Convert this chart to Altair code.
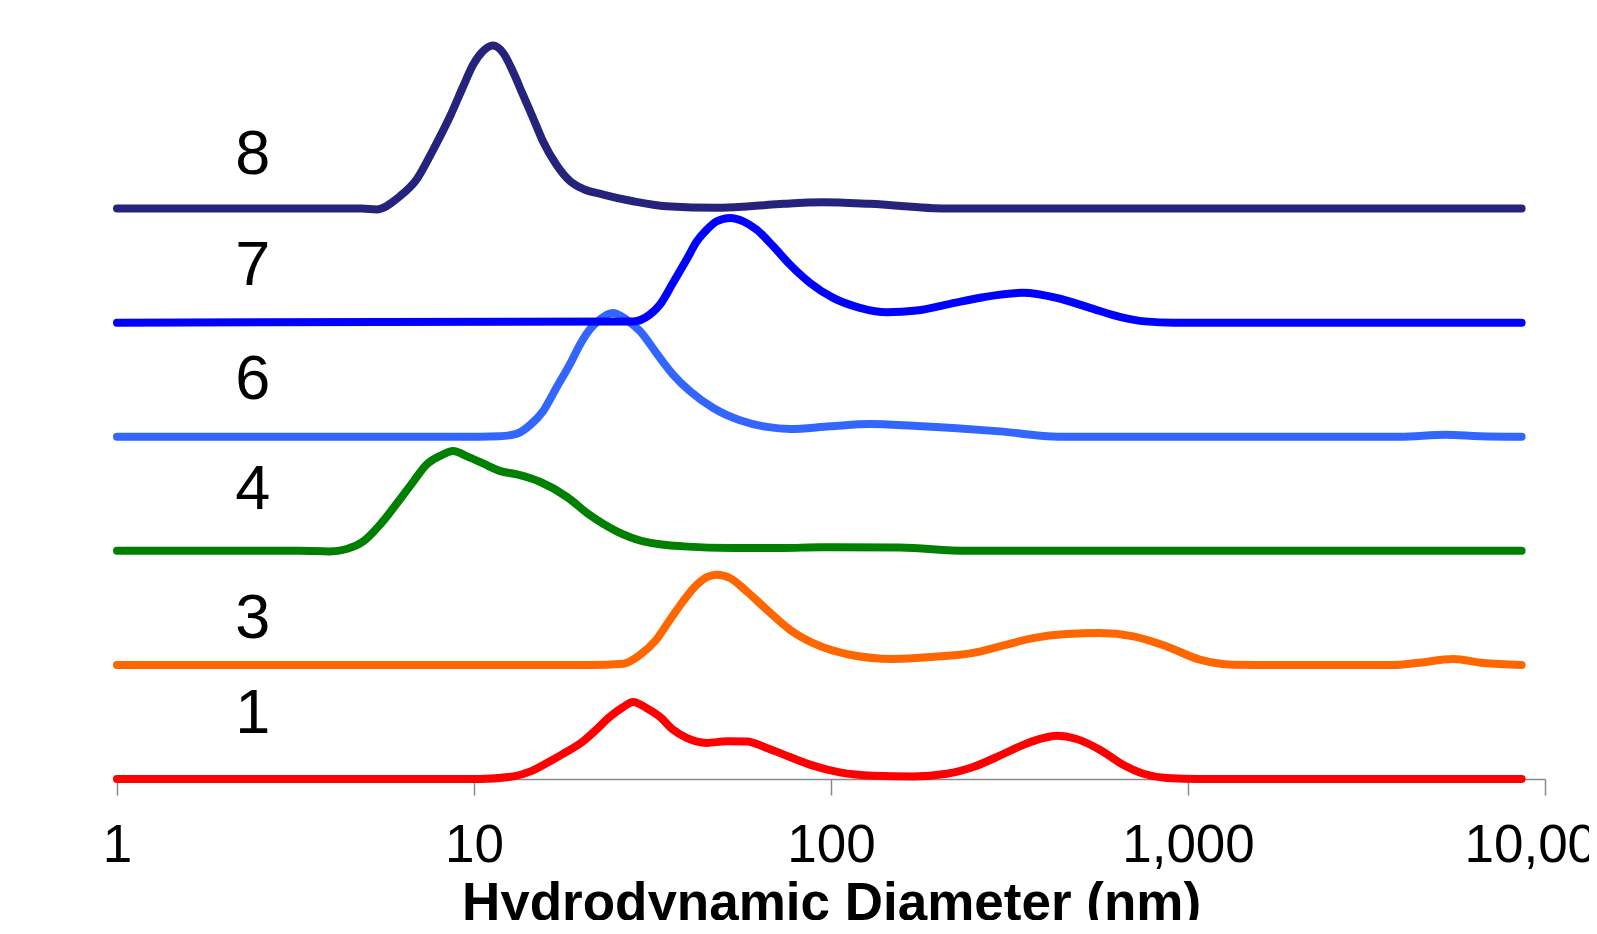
import altair as alt
import pandas as pd

# ---- data (size in nm, intensity in arbitrary units) ----
names = ["1", "3", "4", "6", "7", "8"]
colors = ["#FF0000", "#FF6600", "#008000", "#3366FF", "#0000FF", "#25237B"]
offsets = [0, 10, 20, 30, 40, 50]

size_1 = [1, 10.4, 12.9, 14.4, 16.0, 17.8, 20.2, 22.0, 24.0, 26.2, 27.9, 30.4, 33.2, 36.1, 39.4,
          44.9, 51.1, 58.1, 66.1, 76.7, 89.1, 105.9, 131.2, 169.8, 210.9, 250, 297, 338, 385,
          428.5, 487.5, 566, 658, 750, 871, 1079, 8600]
int_1 = [0, 0, 0.23, 0.67, 1.40, 2.22, 3.30, 4.32, 5.44, 6.31, 6.75, 6.23, 5.44, 4.32, 3.60,
         3.16, 3.30, 3.28, 2.72, 1.93, 1.17, 0.58, 0.29, 0.23, 0.46, 1.05, 2.05, 2.86, 3.51,
         3.80, 3.51, 2.57, 1.25, 0.46, 0.09, 0, 0]

size_3 = [1, 21.1, 26.2, 29.2, 32.4, 35.4, 38.5, 42.1, 44.9, 47.9, 52.1, 58.1, 66.1, 76.7, 91.2,
          113, 149, 193, 250, 297, 368, 457, 566, 703, 871, 1079, 1340, 1660, 3758, 4365, 5534,
          6714, 8600]
int_3 = [0, 0, 0.11, 0.89, 2.21, 3.96, 5.57, 7.03, 7.70, 7.91, 7.62, 6.44, 4.84, 3.09, 1.77,
         0.89, 0.52, 0.70, 1.05, 1.62, 2.35, 2.70, 2.79, 2.50, 1.62, 0.46, 0.02, 0, 0, 0.16, 0.52,
         0.16, 0]

size_4 = [1, 3.25, 3.94, 4.40, 4.90, 5.45, 6.07, 6.76, 7.36, 8.04, 8.75, 9.53, 10.6, 11.8, 13.2,
          15.3, 18.2, 21.1, 25.1, 29.8, 38.5, 53.2, 73.5, 93.1, 156, 240, 8600]
int_4 = [0, 0, -0.05, 0.16, 0.83, 2.28, 4.12, 6.07, 7.56, 8.32, 8.75, 8.30, 7.66, 7.01, 6.70,
         6.05, 4.73, 3.13, 1.71, 0.83, 0.39, 0.25, 0.25, 0.31, 0.28, 0, 0]

size_6 = [1, 10.4, 11.8, 13.2, 14.4, 15.6, 17.0, 18.6, 19.8, 21.1, 22.5, 24.5, 26.7, 29.2, 32.4,
          36.1, 40.3, 46.8, 55.6, 66.1, 76.7, 99.3, 128.5, 169.8, 219.8, 297.2, 434.5, 3926,
          5272, 6561, 8600]
int_6 = [0, 0, 0.04, 0.27, 1.06, 2.22, 4.27, 6.41, 8.07, 9.39, 10.27, 10.85, 10.27, 9.24, 7.35,
         5.45, 3.98, 2.52, 1.44, 0.86, 0.68, 0.91, 1.12, 0.97, 0.77, 0.47, 0, 0, 0.18, 0.05, 0]

size_7 = [1, 27.9, 31.1, 33.2, 36.1, 39.4, 42.1, 44.9, 47.9, 52.1, 56.8, 61.9, 68.9, 76.7,
          87.3, 101.4, 120.5, 143.2, 173.8, 215.3, 266.7, 345.1, 428.5, 530.9, 644.2, 756.8,
          918, 8600]
int_7 = [0, 0.1, 0.71, 1.59, 3.49, 5.53, 7.13, 8.15, 8.88, 9.18, 8.88, 8.15, 6.69, 5.09,
         3.49, 2.17, 1.30, 0.91, 1.06, 1.65, 2.23, 2.61, 2.17, 1.30, 0.51, 0.11, 0, 0]

size_8 = [1, 4.85, 5.33, 6.2, 6.9, 7.69, 8.57, 9.33, 9.95, 10.6, 11.3, 12.1, 12.9, 13.7, 14.7,
          15.6, 17.0, 18.6, 20.2, 23.0, 27.9, 34.6, 47.9, 59.3, 73.5, 95, 128.5, 211, 8600]
int_8 = [0, 0, -0.08, 1.08, 2.54, 5.17, 8.09, 10.72, 12.62, 13.79, 14.28, 13.59, 11.90, 10.00,
         7.80, 5.90, 3.86, 2.39, 1.73, 1.23, 0.64, 0.20, 0.06, 0.20, 0.41, 0.55, 0.41, 0.0, 0]

sizes = [size_1, size_3, size_4, size_6, size_7, size_8]
intensities = [int_1, int_3, int_4, int_6, int_7, int_8]

label_x = 2.4
label_heights = [4.03, 2.4, 3.7, 3.33, 3.28, 3.04]

tick_values = [1, 10, 100, 1000, 10000]

FONT = "Liberation Sans, Arial, Helvetica, sans-serif"

xscale = alt.Scale(type="log", domain=[1, 10000], nice=False)
yscale = alt.Scale(domain=[0, 66], nice=False, zero=False)

xaxis = alt.Axis(
    values=tick_values, format=",", grid=False,
    labelFont=FONT, labelFontSize=53, labelColor="#000000",
    labelPadding=24, labelFlush=False, labelOverlap=False,
    tickSize=16, tickWidth=1.5, tickColor="#8a8a8a",
    domainColor="#8a8a8a", domainWidth=1.5,
    title="Hydrodynamic Diameter (nm)", titleFont=FONT, titleFontSize=53,
    titleFontWeight="bold", titleColor="#000000",
    titleBaseline="alphabetic", titleY=140,
)

layers = []
for name, col, off, s, v in zip(names, colors, offsets, sizes, intensities):
    df = pd.DataFrame({"size": s, "intensity": v})
    df["series"] = name
    df["y"] = df["intensity"] + off
    layers.append(
        alt.Chart(df).mark_line(
            color=col, strokeWidth=8, strokeCap="round", strokeJoin="round",
            interpolate="monotone", clip=False,
        ).encode(
            x=alt.X("size:Q", scale=xscale, axis=xaxis),
            y=alt.Y("y:Q", scale=yscale, axis=None),
        )
    )

lab_df = pd.DataFrame({
    "series": names,
    "x": [label_x] * len(names),
    "y": [o + h for o, h in zip(offsets, label_heights)],
})
labels = alt.Chart(lab_df).mark_text(
    font=FONT, fontSize=63, color="#000000", align="center", baseline="alphabetic"
).encode(
    x=alt.X("x:Q", scale=xscale, axis=xaxis),
    y=alt.Y("y:Q", scale=yscale, axis=None),
    text="series:N",
)

chart = alt.layer(*layers, labels).properties(
    width=1428, height=753,
    autosize=alt.AutoSizeParams(type="none"),
    padding={"left": 109, "top": 18, "right": 44, "bottom": 141},
    background="#ffffff",
).configure_view(strokeWidth=0)

chart.save("out.html", embed_options={"renderer": "svg", "actions": False})
